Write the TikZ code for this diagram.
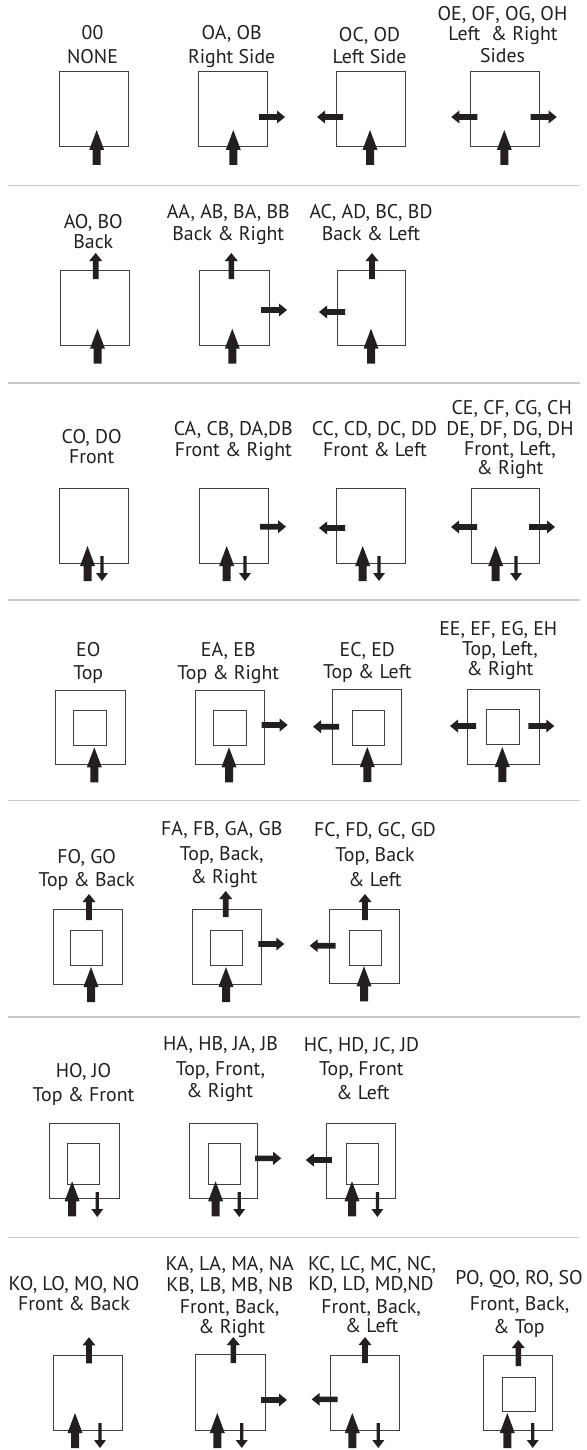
\documentclass[tikz,border=0pt]{standalone}
\usepackage{fontspec}
\setmainfont{PT Sans}
\definecolor{ink}{HTML}{231F20}
\definecolor{boxc}{HTML}{404040}
\definecolor{sepc}{HTML}{C8C8C8}
\newcommand\lbl[4]{\node[lab] (#1) at (#2,#3) {#4};}
\begin{document}
\begin{tikzpicture}[x=1pt,y=-1pt,
  lab/.style={anchor=base,inner sep=0pt,text=ink,font=\fontsize{19.8}{20}\selectfont},
  box/.style={draw=boxc,line width=1pt,inner sep=0pt,outer sep=0pt,minimum width=69pt,minimum height=75pt},
  sepline/.style={draw=sepc,line width=1.2pt},
  bigup/.pic={\fill[ink] (-4,18) -- (-4,3) -- (-7.5,3) -- (0,-17) -- (7.5,3) -- (4,3) -- (4,18) -- cycle;},
  sarr/.pic={\fill[ink] (0,-2.8) -- (18,-2.8) -- (18,-6.5) -- (26,0) -- (18,6.5) -- (18,2.8) -- (0,2.8) -- cycle;},
  tarr/.pic={\fill[ink] (0,-1.6) -- (17,-1.6) -- (17,-6) -- (25,0) -- (17,6) -- (17,1.6) -- (0,1.6) -- cycle;}
]
\fill[white] (0,0) rectangle (586,1450);
\useasboundingbox (0,0) rectangle (586,1450);

% separators
\draw[sepline] (8,185.5) -- (580,185.5);
\draw[sepline] (8,383) -- (580,383);
\draw[sepline] (8,600) -- (580,600);
\draw[sepline] (8,800.5) -- (580,800.5);
\draw[sepline] (8,1017) -- (580,1017);
\draw[sepline] (8,1237.3) -- (580,1237.3);

% ---------- Row 1
\lbl{t11a}{92.5}{40}{00}
\lbl{t11b}{92.5}{63.3}{NONE}
\lbl{t12a}{231.7}{40}{OA, OB}
\lbl{t12b}{231.7}{63.3}{Right Side}
\lbl{t13a}{369.5}{41.7}{OC, OD}
\lbl{t13b}{369.5}{63.3}{Left Side}
\lbl{t14a}{502.5}{20.7}{OE, OF, OG, OH}
\lbl{t14b}{503}{41}{Left\ \ \& Right}
\lbl{t14c}{502.5}{62.3}{Sides}
\node[box] (b11) at (93.5,109.5) {};
\node[box] (b12) at (232.5,109.5) {};
\node[box] (b13) at (370.5,109.5) {};
\node[box] (b14) at (504.5,109.5) {};
\pic at (96.7,147) {bigup};
\pic at (233.3,147) {bigup};
\pic at (370,147) {bigup};
\pic at (504.3,147) {bigup};
\pic at (259,117) {sarr};
\pic[rotate=180] at (343,117) {sarr};
\pic[rotate=180] at (477.3,117) {sarr};
\pic at (530.7,117) {sarr};

% ---------- Row 2
\lbl{t21a}{93.3}{228.3}{AO, BO}
\lbl{t21b}{93.3}{248.3}{Back}
\lbl{t22a}{228.3}{218.3}{AA, AB, BA, BB}
\lbl{t22b}{228.3}{240}{Back \& Right}
\lbl{t23a}{371}{218.3}{AC, AD, BC, BD}
\lbl{t23b}{371}{240}{Back \& Left}
\node[box] (b21) at (94.5,308.2) {};
\node[box,minimum width=70pt] (b22) at (234,308.2) {};
\node[box,minimum width=68pt] (b23) at (371,308.2) {};
\pic at (97.5,345.7) {bigup};
\pic at (232.3,345.7) {bigup};
\pic at (371,345.7) {bigup};
\pic[rotate=90] at (95.7,279) {sarr};
\pic[rotate=90] at (231.3,279) {sarr};
\pic[rotate=90] at (372,279) {sarr};
\pic at (261,310) {sarr};
\pic[rotate=180] at (345,312) {sarr};

% ---------- Row 3
\lbl{t31a}{91.7}{443}{CO, DO}
\lbl{t31b}{91.7}{463}{Front}
\lbl{t32a}{233.3}{435}{CA, CB, DA,DB}
\lbl{t32b}{233.3}{456}{Front \& Right}
\lbl{t33a}{374.5}{435}{CC, CD, DC, DD}
\lbl{t33b}{375}{456}{Front \& Left}
\lbl{t34a}{511.7}{414}{CE, CF, CG, CH}
\lbl{t34b}{510}{435}{DE, DF, DG, DH}
\lbl{t34c}{510}{455.5}{Front, Left,}
\lbl{t34d}{510}{474}{\& Right}
\node[box] (b31) at (93.5,525.5) {};
\node[box] (b32) at (233.5,525.5) {};
\node[box] (b33) at (370.5,525.5) {};
\node[box,minimum width=68pt] (b34) at (505,525.5) {};
\pic at (87.5,563) {bigup};
\pic at (226.7,563) {bigup};
\pic at (362.7,563) {bigup};
\pic at (495.7,563) {bigup};
\pic[rotate=-90] at (102,556) {tarr};
\pic[rotate=-90] at (245,556) {tarr};
\pic[rotate=-90] at (379,556) {tarr};
\pic[rotate=-90] at (516,556) {tarr};
\pic at (260,526.7) {sarr};
\pic[rotate=180] at (345,528) {sarr};
\pic[rotate=180] at (477,527) {sarr};
\pic at (529,527) {sarr};

% ---------- Row 4
\lbl{t41a}{88.3}{656.7}{EO}
\lbl{t41b}{88.3}{679}{Top}
\lbl{t42a}{228.3}{656.7}{EA, EB}
\lbl{t42b}{228.3}{679}{Top \& Right}
\lbl{t43a}{367.3}{656.7}{EC, ED}
\lbl{t43b}{367.3}{678.3}{Top \& Left}
\lbl{t44a}{498.3}{635}{EE, EF, EG, EH}
\lbl{t44b}{500}{655}{Top, Left,}
\lbl{t44c}{500}{675}{\& Right}
\node[box,minimum width=69.6pt,minimum height=74.3pt] (b41) at (90.5,727.2) {};
\node[box,minimum width=32.7pt,minimum height=34.6pt] (i41) at (89.7,728) {};
\node[box,minimum width=69.7pt,minimum height=74.3pt] (b42) at (229.85,727.2) {};
\node[box,minimum width=33.4pt,minimum height=35.3pt] (i42) at (230,727.7) {};
\node[box,minimum width=69.4pt,minimum height=74.7pt] (b43) at (367,726.7) {};
\node[box,minimum width=32.4pt,minimum height=34.6pt] (i43) at (368.5,728) {};
\node[box,minimum width=72pt,minimum height=74.7pt] (b44) at (503.3,726.7) {};
\node[box,minimum width=32.6pt,minimum height=35pt] (i44) at (503,726.8) {};
\pic at (94.3,764.3) {bigup};
\pic at (229,764.3) {bigup};
\pic at (367.3,764) {bigup};
\pic at (502.3,764) {bigup};
\pic at (261.7,725) {sarr};
\pic[rotate=180] at (339,726.7) {sarr};
\pic[rotate=180] at (476,726) {sarr};
\pic at (528.3,726) {sarr};

% ---------- Row 5
\lbl{t51a}{86.7}{863.3}{FO, GO}
\lbl{t51b}{86.7}{886}{Top \& Back}
\lbl{t52a}{221.7}{835}{FA, FB, GA, GB}
\lbl{t52b}{221.7}{860}{Top, Back,}
\lbl{t52c}{224}{883}{\& Right}
\lbl{t53a}{375}{836.7}{FC, FD, GC, GD}
\lbl{t53b}{375}{861.7}{Top, Back}
\lbl{t53c}{375}{886}{\& Left}
\node[box] (b51) at (87.8,946.5) {};
\node[box,minimum width=32.7pt,minimum height=34.6pt] (i51) at (86.35,948) {};
\node[box] (b52) at (227.2,946.5) {};
\node[box,minimum width=32.7pt,minimum height=35.7pt] (i52) at (226.35,947.85) {};
\node[box,minimum width=69.7pt,minimum height=74.3pt] (b53) at (364.15,946.15) {};
\node[box,minimum width=32.4pt,minimum height=35pt] (i53) at (365.5,947.5) {};
\pic at (91,984) {bigup};
\pic at (226,984) {bigup};
\pic at (364,983.3) {bigup};
\pic[rotate=90] at (89,920) {sarr};
\pic[rotate=90] at (225.7,917) {sarr};
\pic[rotate=90] at (365,920) {sarr};
\pic at (258.3,944) {sarr};
\pic[rotate=180] at (335.7,945.7) {sarr};

% ---------- Row 6
\lbl{t61a}{83.5}{1077.5}{HO, JO}
\lbl{t61b}{83.5}{1101.5}{Top \& Front}
\lbl{t62a}{220.5}{1050}{HA, HB, JA, JB}
\lbl{t62b}{220.5}{1075}{Top, Front,}
\lbl{t62c}{219.7}{1097.5}{\& Right}
\lbl{t63a}{361.4}{1051.7}{HC, HD, JC, JD}
\lbl{t63b}{361.4}{1075}{Top, Front}
\lbl{t63c}{363}{1099.5}{\& Left}
\node[box,minimum width=69.9pt] (b61) at (84.65,1160.8) {};
\node[box,minimum width=32.5pt,minimum height=41pt] (i61) at (83.55,1163.5) {};
\node[box,minimum width=68.3pt] (b62) at (223.65,1160.8) {};
\node[box,minimum width=32pt,minimum height=41pt] (i62) at (224,1163.5) {};
\node[box,minimum width=69.2pt] (b63) at (360.8,1160.8) {};
\node[box,minimum width=31.8pt,minimum height=41pt] (i63) at (362.3,1163.5) {};
\pic at (72.1,1198.3) {bigup};
\pic at (215.6,1198.3) {bigup};
\pic at (352,1198.3) {bigup};
\pic[rotate=-90] at (97.2,1192) {tarr};
\pic[rotate=-90] at (239.2,1192) {tarr};
\pic[rotate=-90] at (377.4,1192) {tarr};
\pic at (255.2,1158.3) {sarr};
\pic[rotate=180] at (331.8,1160) {sarr};

% ---------- Row 7
\lbl{t71a}{74}{1290.5}{KO, LO, MO, NO}
\lbl{t71b}{74}{1310}{Front \& Back}
\lbl{t72a}{229.7}{1270.7}{KA, LA, MA, NA}
\lbl{t72b}{229.7}{1291.7}{KB, LB, MB, NB}
\lbl{t72c}{229.7}{1313}{Front, Back,}
\lbl{t72d}{231.7}{1333}{\& Right}
\lbl{t73a}{372}{1270}{KC, LC, MC, NC,}
\lbl{t73b}{371}{1290.7}{KD, LD, MD,ND}
\lbl{t73c}{371}{1313}{Front, Back,}
\lbl{t73d}{371.7}{1332.7}{\& Left}
\lbl{t74a}{519}{1284}{PO, QO, RO, SO}
\lbl{t74b}{519.5}{1310}{Front, Back,}
\lbl{t74c}{519}{1333}{\& Top}
\node[box] (b71) at (87.8,1392.5) {};
\node[box,minimum width=69.3pt,minimum height=75.7pt] (b72) at (230.35,1392.2) {};
\node[box,minimum width=68.6pt] (b73) at (365,1392.5) {};
\node[box,minimum height=74.3pt] (b74) at (517.8,1392.85) {};
\node[box,minimum width=32.3pt,minimum height=34.4pt] (i74) at (518.85,1394.5) {};
\pic at (75,1430) {bigup};
\pic at (217.3,1430) {bigup};
\pic at (352.3,1430) {bigup};
\pic at (507.3,1430) {bigup};
\pic[rotate=-90] at (100,1423) {tarr};
\pic[rotate=-90] at (241.7,1423) {tarr};
\pic[rotate=-90] at (378.3,1423) {tarr};
\pic[rotate=-90] at (532.7,1423) {tarr};
\pic[rotate=90] at (89,1363.3) {sarr};
\pic[rotate=90] at (233.3,1363) {sarr};
\pic[rotate=90] at (365,1363) {sarr};
\pic[rotate=90] at (518.3,1366) {sarr};
\pic at (261,1400) {sarr};
\pic[rotate=180] at (337.7,1399.3) {sarr};
\end{tikzpicture}
\end{document}
